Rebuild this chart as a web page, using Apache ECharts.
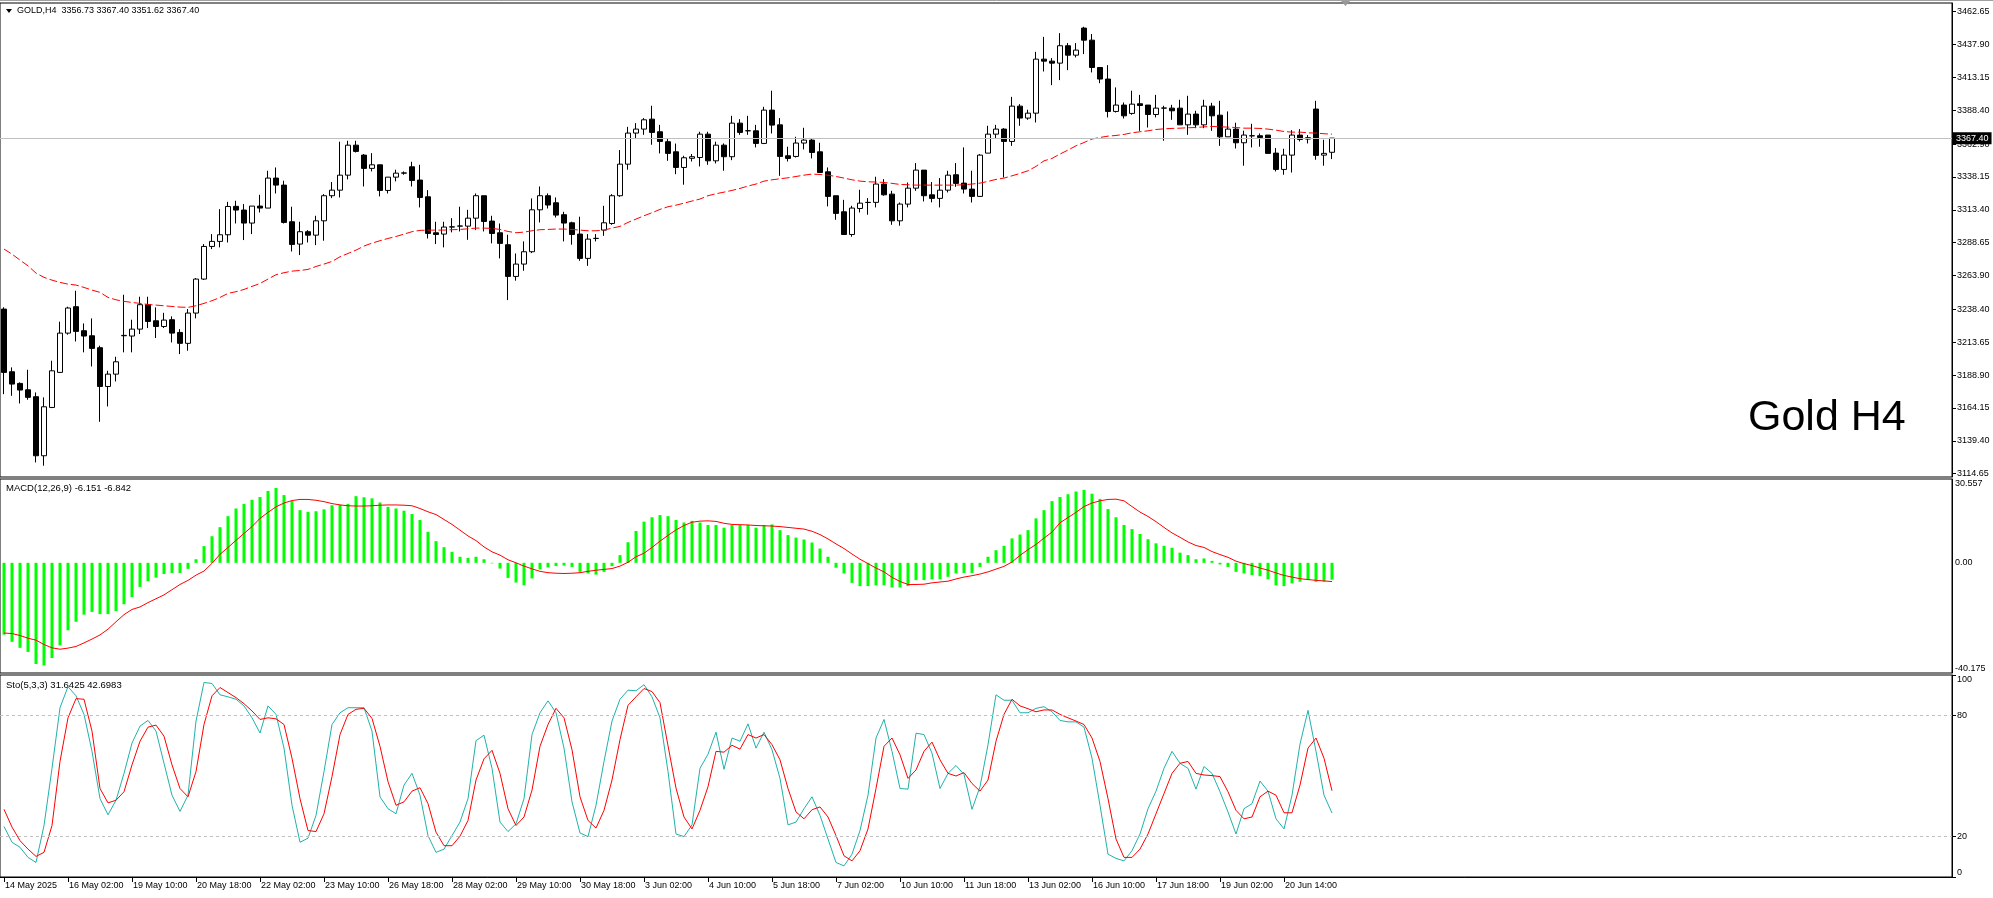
<!DOCTYPE html>
<html><head><meta charset="utf-8">
<script src="https://cdn.jsdelivr.net/npm/echarts@6/dist/echarts.min.js"></script>
<style>html,body{margin:0;padding:0;background:#fff}#c{width:1993px;height:898px}</style>
</head><body><div id="c"></div><script>
const tickLabels = ['14 May 2025','16 May 02:00','19 May 10:00','20 May 18:00','22 May 02:00','23 May 10:00','26 May 18:00','28 May 02:00','29 May 10:00','30 May 18:00','3 Jun 02:00','4 Jun 10:00','5 Jun 18:00','7 Jun 02:00','10 Jun 10:00','11 Jun 18:00','13 Jun 02:00','16 Jun 10:00','17 Jun 18:00','19 Jun 02:00','20 Jun 14:00'];
const priceTicks = [3114.65,3139.40,3164.15,3188.90,3213.65,3238.40,3263.90,3288.65,3313.40,3338.15,3362.90,3388.40,3413.15,3437.90,3462.65];
const macdTicks = [-40.175, 0, 30.557];
const stochTicks = [0, 20, 80, 100];

const open = [3238.6,3191.4,3182.6,3177.8,3172.6,3128.1,3164.5,3190.9,3220.5,3240.4,
3222.3,3218.5,3209.5,3180.3,3189.6,3218.5,3218.3,3223.5,3241.9,3229.8,
3225.5,3230.6,3221.0,3212.8,3235.6,3261.2,3285.8,3289.6,3294.6,3316.0,
3313.2,3303.4,3316.2,3314.7,3337.3,3332.0,3304.4,3287.6,3296.9,3294.3,
3305.1,3324.0,3328.2,3339.5,3362.1,3354.6,3344.6,3347.3,3328.0,3338.0,
3341.0,3345.8,3335.8,3323.2,3296.1,3295.1,3300.4,3301.1,3301.1,3307.1,
3324.0,3304.9,3296.1,3287.1,3263.2,3272.5,3281.8,3313.4,3324.0,3318.7,
3309.7,3303.6,3295.1,3276.8,3291.8,3298.1,3303.1,3324.0,3347.8,3371.2,
3374.2,3381.7,3372.2,3364.7,3357.1,3345.3,3352.2,3352.8,3370.4,3350.3,
3362.1,3353.4,3378.7,3372.9,3372.9,3363.4,3388.5,3377.4,3354.1,3353.6,
3363.7,3365.9,3357.1,3342.0,3324.0,3311.9,3294.8,3314.4,3318.9,3319.0,
3332.8,3325.2,3305.1,3317.7,3329.7,3343.3,3324.7,3322.0,3328.2,3339.8,
3333.5,3329.0,3323.5,3356.1,3370.4,3374.2,3364.9,3391.5,3382.5,3386.2,
3426.9,3425.4,3423.9,3437.0,3429.9,3450.3,3441.2,3420.6,3411.9,3387.5,
3392.3,3386.0,3393.3,3392.3,3385.2,3390.0,3390.0,3390.0,3377.4,3385.5,
3377.4,3391.5,3384.7,3368.4,3374.2,3363.9,3369.1,3369.2,3369.7,3356.1,
3343.8,3354.6,3369.7,3367.7,3389.3,3354.6,3356.73];
const high = [3240.0,3194.7,3183.4,3192.9,3175.8,3172.1,3199.7,3229.1,3240.4,3252.4,
3227.8,3231.6,3211.0,3192.1,3202.7,3249.4,3230.6,3247.9,3247.9,3239.9,
3235.8,3233.1,3223.5,3238.6,3262.0,3287.6,3295.1,3313.9,3319.4,3320.2,
3317.7,3316.2,3324.7,3342.8,3345.3,3335.3,3315.7,3304.4,3298.1,3308.9,
3325.2,3334.3,3364.7,3365.4,3365.4,3355.4,3356.1,3347.3,3338.0,3343.6,
3342.3,3349.6,3347.3,3328.2,3304.4,3304.4,3307.1,3315.7,3313.4,3325.7,
3324.0,3308.9,3303.1,3294.6,3280.5,3289.6,3322.0,3331.0,3325.7,3322.7,
3311.9,3304.4,3308.2,3295.1,3295.1,3316.4,3325.2,3358.4,3375.9,3378.7,
3382.5,3391.8,3377.4,3366.7,3363.3,3354.1,3355.4,3372.2,3372.2,3364.7,
3363.4,3384.2,3381.7,3384.2,3377.4,3391.0,3403.1,3382.5,3360.9,3368.4,
3375.2,3367.4,3363.9,3345.3,3324.0,3320.9,3316.4,3328.5,3322.2,3338.3,
3336.5,3327.7,3318.9,3334.0,3348.6,3343.3,3334.3,3337.3,3342.8,3348.6,
3360.4,3342.8,3355.4,3376.7,3377.4,3374.9,3398.5,3393.0,3388.8,3432.4,
3443.7,3427.7,3446.5,3439.0,3439.0,3451.3,3445.8,3420.6,3422.4,3405.6,
3394.3,3403.1,3400.0,3392.3,3400.0,3391.8,3392.5,3396.3,3399.3,3388.0,
3396.3,3394.0,3395.5,3387.5,3379.0,3373.0,3378.2,3370.9,3369.7,3359.9,
3359.4,3373.4,3374.2,3369.7,3395.5,3366.2,3367.40];
const low = [3174.5,3173.3,3167.5,3170.3,3123.1,3120.6,3164.0,3190.4,3219.3,3214.2,
3206.0,3195.4,3153.7,3165.3,3184.1,3206.0,3206.0,3219.8,3224.3,3216.8,
3224.3,3213.5,3204.7,3207.2,3231.6,3260.5,3283.8,3285.1,3288.8,3303.1,
3290.6,3295.1,3311.4,3314.7,3325.7,3303.1,3282.0,3279.3,3288.8,3286.8,
3290.1,3322.2,3322.7,3336.3,3356.6,3331.0,3342.3,3323.5,3325.7,3334.8,
3339.8,3331.0,3315.2,3291.8,3287.6,3285.1,3296.4,3297.1,3290.8,3298.1,
3297.1,3288.1,3276.8,3245.4,3260.0,3267.5,3280.8,3303.9,3314.4,3307.6,
3289.6,3287.1,3275.0,3271.2,3289.6,3293.8,3302.1,3323.2,3343.6,3366.7,
3369.9,3362.4,3355.9,3350.3,3340.2,3332.3,3349.8,3346.1,3347.3,3348.3,
3342.8,3350.8,3369.9,3369.9,3360.4,3362.9,3370.9,3339.0,3349.8,3352.8,
3358.9,3352.1,3341.5,3316.0,3305.9,3294.8,3293.1,3311.4,3309.7,3315.2,
3324.0,3302.1,3301.4,3315.2,3327.7,3319.7,3319.0,3315.2,3326.5,3330.7,
3325.7,3318.9,3323.2,3356.1,3367.4,3337.8,3361.6,3376.7,3381.2,3379.2,
3417.6,3407.3,3411.1,3418.6,3428.2,3430.7,3416.9,3408.8,3383.0,3386.7,
3382.2,3385.0,3372.9,3375.4,3383.0,3365.4,3381.2,3377.4,3369.9,3374.9,
3374.9,3372.9,3361.6,3368.4,3359.6,3346.6,3360.4,3360.9,3355.9,3342.3,
3339.8,3341.5,3364.9,3363.4,3351.1,3346.6,3351.62];
const close = [3190.9,3182.1,3177.6,3172.1,3128.1,3165.0,3192.1,3220.5,3239.4,3221.8,
3218.3,3209.0,3180.3,3189.6,3198.9,3218.8,3223.5,3241.9,3229.3,3225.5,
3230.3,3220.5,3212.8,3235.6,3261.2,3285.8,3289.6,3294.6,3315.9,3313.2,
3303.4,3316.2,3314.7,3337.3,3332.0,3303.9,3287.3,3296.9,3294.3,3305.1,
3324.0,3328.2,3339.5,3362.1,3357.4,3344.6,3347.3,3328.0,3338.0,3341.0,
3341.2,3335.5,3322.7,3295.6,3294.8,3300.4,3300.6,3301.2,3307.1,3324.0,
3304.6,3295.6,3288.1,3263.2,3272.5,3281.8,3313.4,3324.0,3317.0,3309.4,
3303.4,3294.8,3276.8,3291.3,3291.9,3303.6,3324.0,3347.8,3371.2,3374.2,
3381.2,3371.7,3364.9,3355.9,3345.3,3352.6,3353.4,3370.4,3350.3,3362.1,
3353.4,3378.7,3371.7,3373.0,3363.4,3388.5,3377.2,3353.6,3352.1,3363.7,
3365.9,3356.6,3341.5,3323.5,3310.7,3294.8,3314.7,3318.4,3319.0,3332.8,
3324.7,3305.1,3317.7,3329.7,3343.3,3324.0,3322.0,3328.2,3339.5,3333.3,
3329.0,3323.5,3354.6,3370.4,3374.2,3364.9,3391.5,3382.5,3386.2,3426.9,
3425.4,3423.9,3437.0,3429.9,3433.7,3441.2,3420.6,3411.9,3387.5,3392.3,
3384.2,3393.0,3392.0,3385.2,3390.0,3390.1,3388.0,3377.4,3385.5,3377.4,
3391.5,3384.2,3368.4,3374.2,3363.9,3369.7,3369.2,3367.9,3355.9,3343.8,
3354.6,3369.7,3366.4,3366.7,3354.4,3355.9,3367.40];
const ma = [3283.8,3280.0,3275.5,3271.2,3265.7,3262.5,3260.4,3258.7,3257.4,3256.7,
3254.9,3252.9,3251.2,3247.4,3245.6,3244.4,3243.6,3242.9,3242.1,3241.6,
3241.1,3240.6,3240.1,3239.9,3241.1,3242.9,3244.9,3247.4,3250.4,3251.7,
3253.4,3255.7,3257.9,3261.2,3264.5,3266.0,3267.2,3267.7,3268.5,3270.7,
3272.5,3274.5,3278.0,3280.5,3283.0,3286.1,3288.3,3290.1,3291.8,3293.3,
3295.1,3296.9,3297.9,3298.1,3298.1,3298.1,3298.4,3298.6,3299.1,3299.6,
3299.6,3299.4,3298.6,3297.1,3296.1,3296.6,3297.6,3298.4,3298.6,3298.9,
3298.9,3298.6,3298.1,3297.6,3297.6,3298.1,3299.6,3300.9,3303.9,3306.4,
3308.9,3311.2,3313.7,3315.7,3316.9,3318.4,3320.0,3321.5,3324.0,3325.5,
3326.7,3328.0,3329.5,3331.3,3332.8,3335.0,3336.0,3336.8,3337.5,3338.5,
3339.5,3340.3,3340.0,3339.5,3338.5,3337.3,3336.0,3335.0,3334.5,3334.3,
3334.0,3333.3,3332.5,3332.3,3332.0,3332.0,3332.0,3332.0,3332.0,3332.0,
3332.3,3332.8,3333.5,3334.8,3336.3,3337.3,3339.0,3340.8,3342.8,3346.1,
3350.3,3352.1,3355.4,3358.4,3361.6,3364.1,3366.7,3367.9,3368.9,3369.4,
3370.2,3371.4,3372.2,3372.9,3373.9,3374.4,3374.7,3374.9,3375.2,3375.4,
3375.9,3376.2,3375.9,3375.7,3375.4,3374.9,3374.9,3374.7,3374.2,3373.4,
3372.4,3371.9,3371.9,3371.4,3371.2,3370.7,3370.4];
const macdMain = [-26.2,-28.8,-31.0,-32.5,-36.9,-37.4,-34.7,-30.1,-24.6,-21.5,
-18.9,-17.9,-18.7,-18.7,-17.6,-15.1,-12.5,-8.8,-6.7,-5.4,
-4.1,-3.7,-3.7,-2.2,1.3,6.1,9.7,13.0,17.0,19.8,
21.5,23.0,24.0,26.2,27.3,24.7,22.5,19.2,18.6,18.8,
19.5,21.0,21.2,21.5,24.3,23.9,23.5,22.0,20.4,19.8,
19.0,17.8,15.6,11.3,7.9,5.7,4.0,2.2,1.8,2.2,
1.3,-0.2,-2.1,-5.5,-7.2,-8.2,-5.7,-2.4,-1.7,-1.2,
-1.0,-1.5,-3.3,-3.9,-4.3,-3.3,-1.2,2.8,7.5,11.6,
15.0,16.6,17.4,17.0,15.6,14.7,15.3,14.7,13.8,13.8,
12.8,13.8,13.8,13.8,12.8,13.8,14.0,11.9,10.1,9.2,
8.5,7.4,5.2,2.2,-1.8,-3.9,-7.3,-8.5,-8.5,-8.2,
-8.2,-9.0,-9.0,-8.5,-6.3,-6.3,-6.0,-6.0,-5.1,-3.9,
-3.7,-3.7,-1.5,2.2,4.6,6.2,8.9,10.3,11.9,16.2,
19.2,22.5,24.0,25.0,26.0,26.6,25.2,23.3,19.6,16.6,
13.8,12.3,10.5,8.6,7.1,6.2,5.5,3.7,2.8,1.3,
1.6,0.7,-0.6,-1.5,-3.3,-3.9,-4.5,-4.9,-6.0,-8.2,
-8.5,-7.5,-6.9,-6.3,-6.9,-6.9,-6.151];
const macdSignal = [-25.6,-25.8,-26.5,-27.5,-28.2,-29.8,-31.0,-31.5,-31.1,-30.5,
-29.2,-27.8,-26.3,-24.2,-21.5,-18.9,-17.0,-16.1,-14.5,-13.1,
-11.7,-9.8,-7.9,-6.4,-4.5,-3.0,-0.2,3.1,5.6,8.2,
10.7,13.2,16.2,18.4,20.4,21.8,22.7,23.1,23.1,22.8,
22.3,21.6,21.1,20.8,20.7,20.7,20.8,21.0,21.1,21.1,
21.0,20.8,19.8,18.6,17.6,15.8,14.0,11.9,9.8,8.1,
5.8,4.0,2.8,1.1,0.0,-1.2,-2.2,-3.1,-3.6,-3.8,
-3.9,-3.8,-3.6,-3.1,-2.7,-2.4,-2.1,-1.2,0.2,2.2,
3.5,5.6,7.9,10.0,12.0,13.6,14.8,15.2,15.3,15.1,
14.4,14.0,13.9,13.8,13.6,13.5,13.4,13.2,12.9,12.6,
12.3,11.5,10.3,8.7,6.9,5.2,3.2,1.3,-0.3,-1.9,
-3.3,-5.3,-6.8,-7.9,-7.9,-7.8,-7.3,-7.0,-6.7,-5.9,
-5.2,-4.7,-4.1,-3.3,-2.3,-1.3,0.3,2.7,4.8,6.7,
9.0,11.2,14.6,16.5,18.4,20.5,21.8,22.6,23.1,23.2,
22.6,20.5,18.5,16.9,15.0,12.9,10.9,9.3,7.6,6.3,
5.6,4.1,3.0,2.0,0.6,-0.3,-1.0,-1.9,-2.7,-3.7,
-4.6,-5.2,-5.8,-6.1,-6.4,-6.6,-6.842];
const stochK = [25.0,17.2,14.7,9.7,7.2,25.5,53.8,83.8,94.2,89.7,
80.5,62.2,38.8,30.8,38.0,51.3,66.3,74.7,77.5,72.2,
56.3,40.5,32.5,40.5,77.2,96.3,95.8,90.2,89.2,88.0,
84.7,78.8,71.3,84.7,80.5,63.8,35.5,17.2,19.2,30.5,
52.2,75.5,81.3,83.8,83.8,83.8,72.2,39.7,33.8,31.3,
45.5,51.3,40.5,20.5,12.2,13.8,20.5,27.2,38.8,67.5,
70.2,53.8,27.2,22.5,26.3,38.8,70.5,81.3,87.2,81.3,
63.8,37.2,21.8,20.0,35.5,57.2,77.2,88.0,92.5,92.2,
95.2,89.2,78.8,52.2,21.3,20.0,25.8,53.8,60.8,71.7,
53.3,68.8,67.2,75.8,63.8,71.7,63.0,48.8,25.8,27.2,
33.8,39.7,30.5,18.8,7.2,5.5,11.3,23.0,40.5,68.8,
78.0,62.2,43.8,43.5,71.2,70.5,61.3,43.8,51.3,55.2,
50.8,33.5,44.7,65.5,90.2,87.5,87.5,81.3,81.3,83.5,
84.3,81.8,77.5,76.8,76.8,74.2,58.8,35.5,11.3,9.2,
8.0,13.0,21.3,33.8,42.5,53.8,62.2,56.3,53.8,43.5,
54.7,51.3,42.2,32.2,21.3,33.8,36.3,47.5,42.5,28.8,
23.8,40.5,65.8,82.5,62.2,40.5,31.6425];
const stochD = [33.5,24.7,18.0,13.8,10.2,12.2,25.5,57.2,78.8,88.3,
88.0,72.2,43.8,36.7,38.0,42.2,55.5,67.2,74.2,75.2,
69.7,55.5,43.8,39.7,52.2,75.5,89.7,93.8,91.3,88.8,
85.8,82.2,78.0,78.8,78.3,75.5,58.8,38.8,23.0,22.5,
31.3,49.7,70.5,80.5,83.0,83.5,78.5,64.7,47.2,35.5,
37.2,42.5,44.2,36.3,22.2,15.5,15.5,20.2,28.0,48.0,
58.5,62.7,51.3,33.8,25.5,29.7,43.0,64.7,75.5,83.5,
78.8,63.0,39.7,28.0,24.2,33.0,48.0,68.0,85.0,89.2,
93.3,91.8,86.3,65.0,44.0,29.7,23.8,33.0,44.7,62.2,
61.8,65.2,63.3,70.5,68.8,70.5,65.5,58.0,43.8,32.2,
28.8,33.3,34.7,29.7,20.5,10.5,8.0,13.0,23.8,43.8,
64.7,68.8,60.5,48.8,53.0,62.2,66.8,58.0,51.3,50.0,
51.7,46.3,42.5,48.0,67.2,80.5,88.0,84.7,83.3,81.8,
82.7,82.7,80.5,78.8,77.2,75.5,68.8,57.2,38.8,18.8,
9.7,9.7,13.8,21.3,31.3,41.3,51.3,56.3,57.2,51.3,
50.5,50.2,49.7,42.2,33.0,28.8,29.7,39.7,42.5,40.5,
31.8,31.8,45.5,63.8,68.8,58.8,42.6983];

const SLOTS = 244;
const LABEL_STEP = 8;
const n = close.length;
const categories = Array.from({length: SLOTS}, (_, i) => String(i));
const lastClose = close[n - 1];
const FONT = '"Liberation Sans", Arial, sans-serif';
const showTick = (idx) => idx % LABEL_STEP === 0 && idx / LABEL_STEP < tickLabels.length;

const chart = echarts.init(document.getElementById('c'), null, {renderer: 'canvas'});
const gridBase = {left: 0, width: 1952, show: true, borderColor: '#000', borderWidth: 1, backgroundColor: 'transparent'};
const xBase = {type: 'category', data: categories, boundaryGap: true};

chart.setOption({
  animation: false,
  backgroundColor: '#fff',
  grid: [
    Object.assign({top: 3, height: 474}, gridBase),
    Object.assign({top: 479, height: 194}, gridBase),
    Object.assign({top: 675, height: 202}, gridBase)
  ],
  xAxis: [
    Object.assign({gridIndex: 0, show: false}, xBase),
    Object.assign({gridIndex: 1, show: false}, xBase),
    Object.assign({gridIndex: 2,
      axisLine: {show: true, lineStyle: {color: '#000', width: 1}},
      axisTick: {show: true, interval: showTick, alignWithLabel: true, length: 5, lineStyle: {color: '#000'}},
      axisLabel: {show: true, interval: showTick, formatter: (v, idx) => tickLabels[idx / LABEL_STEP] || '',
        align: 'left', fontSize: 9, fontFamily: FONT, color: '#000', margin: 4, padding: [0, 0, 0, 1]},
      splitLine: {show: false}}, xBase)
  ],
  yAxis: [
    {gridIndex: 0, type: 'value', position: 'right', min: 3112.1, max: 3469.2,
      splitLine: {show: false}, axisLine: {show: true, lineStyle: {color: '#000'}},
      axisTick: {show: true, customValues: priceTicks, length: 4, lineStyle: {color: '#000'}},
      axisLabel: {customValues: priceTicks, formatter: v => v.toFixed(2), fontSize: 9, fontFamily: FONT, color: '#000', margin: 5}},
    {gridIndex: 1, type: 'value', position: 'right', min: macdTicks[0], max: macdTicks[2],
      splitLine: {show: false}, axisLine: {show: true, lineStyle: {color: '#000'}},
      axisTick: {show: false},
      axisLabel: {customValues: macdTicks, formatter: v => v === 0 ? '0.00' : v.toFixed(3), fontSize: 9, fontFamily: FONT, color: '#000', margin: 3,
        verticalAlignMinLabel: 'bottom', verticalAlignMaxLabel: 'top'}},
    {gridIndex: 2, type: 'value', position: 'right', min: 0, max: 100,
      splitLine: {show: false}, axisLine: {show: true, lineStyle: {color: '#000'}},
      axisTick: {show: true, customValues: stochTicks, length: 4, lineStyle: {color: '#000'}},
      axisLabel: {customValues: stochTicks, formatter: v => String(v), fontSize: 9, fontFamily: FONT, color: '#000', margin: 5,
        verticalAlignMinLabel: 'bottom', verticalAlignMaxLabel: 'top'}}
  ],
  series: [
    {type: 'candlestick', xAxisIndex: 0, yAxisIndex: 0, silent: true, barWidth: 5,
      data: open.map((o, i) => [o, close[i], low[i], high[i]]),
      itemStyle: {color: '#fff', color0: '#000', borderColor: '#000', borderColor0: '#000', borderWidth: 1},
      markLine: {silent: true, symbol: 'none', animation: false,
        lineStyle: {color: '#C0C0C0', type: 'solid', width: 1},
        label: {position: 'end', distance: 1, formatter: () => lastClose.toFixed(2), color: '#fff', backgroundColor: '#000',
          fontSize: 9, fontFamily: FONT, padding: [2, 3, 1, 3]},
        data: [{yAxis: lastClose}]},
      z: 3},
    {type: 'line', xAxisIndex: 0, yAxisIndex: 0, silent: true, data: ma, symbol: 'none',
      lineStyle: {color: '#ff0000', width: 1, type: [8, 3]}, z: 4},
    {type: 'bar', xAxisIndex: 1, yAxisIndex: 1, silent: true, data: macdMain, barWidth: 3,
      itemStyle: {color: '#00ff00'}},
    {type: 'line', xAxisIndex: 1, yAxisIndex: 1, silent: true, data: macdSignal, symbol: 'none',
      lineStyle: {color: '#ff0000', width: 1}},
    {type: 'line', xAxisIndex: 2, yAxisIndex: 2, silent: true, data: stochK, symbol: 'none',
      lineStyle: {color: '#20B2AA', width: 1},
      markLine: {silent: true, symbol: 'none', animation: false, label: {show: false},
        lineStyle: {color: '#C0C0C0', type: [3, 3], width: 1},
        data: [{yAxis: 80}, {yAxis: 20}]}},
    {type: 'line', xAxisIndex: 2, yAxisIndex: 2, silent: true, data: stochD, symbol: 'none',
      lineStyle: {color: '#ff0000', width: 1}}
  ],
  graphic: [
    {type: 'line', shape: {x1: 0, y1: 0.5, x2: 1993, y2: 0.5}, style: {stroke: '#a0a0a0', lineWidth: 1}},
    {type: 'polygon', shape: {points: [[6, 9], [12, 9], [9, 13]]}, style: {fill: '#000'}},
    {type: 'text', x: 17, y: 11, style: {text: 'GOLD,H4  ' + [open[n-1], high[n-1], low[n-1], close[n-1]].map(v => v.toFixed(2)).join(' '),
      font: '9px ' + FONT, fill: '#000', verticalAlign: 'middle'}},
    {type: 'text', x: 6, y: 488, style: {text: 'MACD(12,26,9) ' + macdMain[n-1].toFixed(3) + ' ' + macdSignal[n-1].toFixed(3),
      font: '9.5px ' + FONT, fill: '#000', verticalAlign: 'middle'}},
    {type: 'text', x: 6, y: 685, style: {text: 'Sto(5,3,3) ' + stochK[n-1].toFixed(4) + ' ' + stochD[n-1].toFixed(4),
      font: '9.5px ' + FONT, fill: '#000', verticalAlign: 'middle'}},
    {type: 'text', x: 1748, y: 418, style: {text: 'Gold H4', font: '43px ' + FONT, fill: '#000', verticalAlign: 'middle'}},
    {type: 'polygon', shape: {points: [[1341, 1], [1350, 1], [1345.5, 6]]}, style: {fill: '#999'}}
  ]
});
</script></body></html>
